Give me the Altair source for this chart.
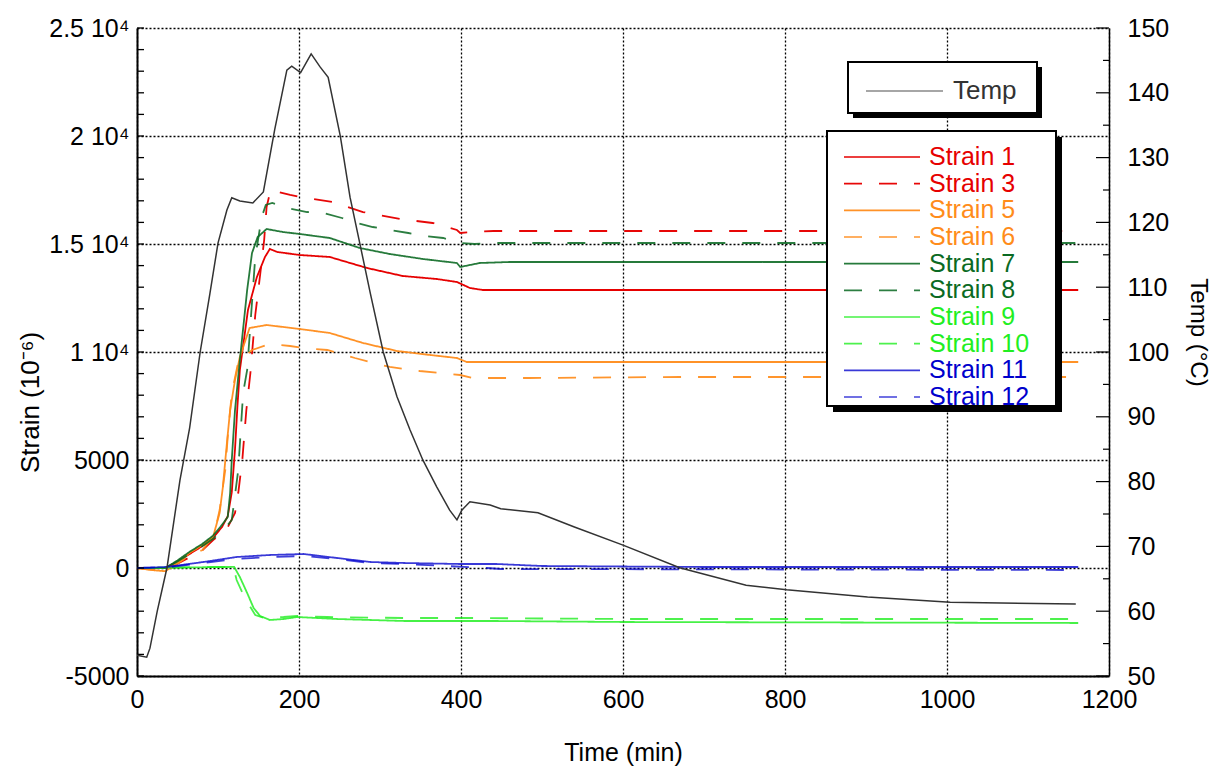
import altair as alt
import pandas as pd

FONT = "Liberation Sans"
W, H = 972, 648

# ---------------- data ----------------
temp_t = [0, 12, 16, 25, 37, 53, 65, 78, 90, 100, 111, 117, 127, 143, 156, 170, 185, 191, 202, 215, 226, 236,
          251, 263, 275, 288, 304, 321, 337, 353, 370, 386, 395, 401, 411, 436, 449, 495, 540, 600, 670, 752,
          802, 902, 1004, 1159]
temp_v = [53.2, 52.9, 54.3, 60.0, 66.7, 80.2, 88.3, 100.0, 109.0, 116.8, 121.9, 123.8, 123.3, 123.0, 124.7,
          134.3, 143.5, 144.1, 143.1, 146.0, 144.0, 142.4, 133.3, 123.9, 116.8, 109.1, 100.0, 93.1, 88.0, 83.3,
          79.2, 75.6, 74.1, 75.6, 76.9, 76.4, 75.8, 75.2, 73.0, 70.2, 66.7, 64.0, 63.3, 62.2, 61.4, 61.1]

t1 = [0, 35, 50, 65, 80, 94, 105, 112, 117, 121, 124, 127, 137, 148, 158, 164, 173, 201, 238, 284, 328, 370, 395, 411, 427, 1162]
v1 = [0, 0, 300, 650, 1000, 1400, 1900, 2400, 3500, 5500, 7500, 9167, 11944, 13472, 14398, 14769, 14630, 14491, 14398,
      13889, 13519, 13380, 13241, 12963, 12870, 12870]

t3 = [0, 35, 50, 65, 81, 94, 111, 121, 125, 130, 135, 140, 146, 152, 157, 160, 165, 189, 201, 242, 279, 325, 365, 395,
      399, 415, 440, 1162]
v3 = [0, -50, 200, 500, 833, 1296, 1806, 2546, 3472, 5000, 7315, 9028, 11713, 13565, 15185, 16713, 17500, 17269, 17176,
      16944, 16481, 16157, 15972, 15648, 15509, 15556, 15602, 15602]

t5 = [0, 20, 35, 50, 65, 80, 94, 102, 106, 111, 115, 121, 127, 139, 160, 201, 238, 279, 321, 362, 395, 407, 1162]
v5 = [0, -100, -150, 250, 700, 1050, 1450, 2546, 3750, 5787, 7315, 8704, 9769, 11111, 11250, 11065, 10880, 10417,
      10046, 9861, 9722, 9537, 9537]

t6 = [0, 20, 35, 50, 65, 81, 95, 102, 109, 112, 117, 125, 142, 164, 189, 205, 235, 269, 312, 349, 399, 415, 485, 670, 1162]
v6 = [0, -100, -200, 200, 600, 833, 1500, 2685, 4537, 6065, 8102, 9537, 10093, 10370, 10278, 10185, 10093, 9722, 9306,
      9120, 8935, 8796, 8796, 8843, 8843]

t7 = [0, 35, 50, 65, 80, 94, 105, 112, 115, 117, 121, 127, 136, 142, 149, 160, 180, 201, 238, 275, 312, 353, 395, 399,
      423, 460, 1162]
v7 = [0, 0, 350, 750, 1100, 1500, 2000, 2361, 3472, 5000, 7315, 9630, 12870, 14583, 15324, 15694, 15556, 15463, 15278,
      14815, 14537, 14306, 14120, 13935, 14120, 14167, 14167]

t8 = [0, 35, 50, 65, 80, 94, 110, 117, 125, 131, 136, 146, 154, 159, 167, 185, 210, 230, 253, 272, 291, 312, 335, 356,
      378, 395, 401, 417, 432, 1162]
v8 = [0, 0, 300, 650, 1000, 1350, 1900, 2222, 4537, 8102, 9167, 14398, 16250, 16806, 16898, 16667, 16481, 16435, 16204,
      15972, 15787, 15648, 15509, 15370, 15278, 15093, 15046, 15000, 15046, 15046]

t9 = [0, 120, 127, 136, 144, 152, 164, 181, 198, 222, 247, 288, 330, 444, 600, 1162]
v9 = [0, 50, -417, -1157, -1852, -2222, -2407, -2361, -2269, -2315, -2361, -2407, -2454, -2454, -2500, -2546]

t10 = [0, 115, 119, 123, 133, 146, 157, 181, 198, 235, 330, 411, 600, 1162]
v10 = [0, 50, 50, -556, -1389, -2176, -2315, -2269, -2222, -2269, -2315, -2315, -2361, -2361]

t11 = [0, 37, 82, 123, 164, 206, 247, 288, 330, 399, 444, 500, 701, 1162]
v11 = [0, 50, 278, 509, 602, 648, 463, 278, 231, 185, 185, 93, 46, 46]

t12 = [0, 37, 82, 123, 164, 206, 247, 288, 330, 432, 449, 1162]
v12 = [0, 30, 230, 417, 509, 556, 417, 231, 185, 0, -46, -93]

names = ["Strain 1", "Strain 3", "Strain 5", "Strain 6", "Strain 7", "Strain 8",
         "Strain 9", "Strain 10", "Strain 11", "Strain 12"]
colors = ["#e60000", "#e60000", "#ff8c1a", "#ff8c1a", "#0b6a23", "#0b6a23",
          "#22ee22", "#22ee22", "#0000cc", "#0000cc"]
dashes = [[1, 0], [18, 17]] * 5
opacities = [1, 0.75] * 5
series_t = [t1, t3, t5, t6, t7, t8, t9, t10, t11, t12]
series_v = [v1, v3, v5, v6, v7, v8, v9, v10, v11, v12]

x_ticks = [0, 200, 400, 600, 800, 1000, 1200]
strain_ticks = [-5000, 0, 5000, 10000, 15000, 20000, 25000]
strain_labels = ["-5000", "0", "5000", "1 10\u2074", "1.5 10\u2074", "2 10\u2074", "2.5 10\u2074"]
strain_minor = list(range(-5000, 25001, 1000))
temp_ticks = list(range(50, 151, 10))
temp_minor = list(range(55, 150, 10))

# ---------------- tables ----------------
rows = []
for n, ts, vs in zip(names, series_t, series_v):
    for t, v in zip(ts, vs):
        rows.append({"series": n, "t": t, "s": v})
df = pd.DataFrame(rows)
temp_df = pd.DataFrame({"t": temp_t, "temp": temp_v})
legend_df = pd.DataFrame({"series": names, "row": list(range(len(names)))})


def expr_map(vals, labels):
    s = "''"
    for v, l in reversed(list(zip(vals, labels))):
        s = f"datum.value == {v} ? '{l}' : ({s})"
    return s


x_scale = alt.Scale(domain=[0, 1200], nice=False, zero=False)
y_scale = alt.Scale(domain=[-5000, 25000], nice=False, zero=False)
temp_scale = alt.Scale(domain=[50, 150], nice=False, zero=False)
color_scale = alt.Scale(domain=names, range=colors)
dash_scale = alt.Scale(domain=names, range=dashes)
op_scale = alt.Scale(domain=names, range=opacities)

grid_style = dict(grid=True, gridColor="black", gridDash=[2, 2], gridWidth=1.3, gridOpacity=1)

x_axis = alt.Axis(values=x_ticks, format="d", ticks=False, domainColor="black", domainWidth=2,
                  labelFont=FONT, labelFontSize=25, labelColor="black", labelPadding=11,
                  labelFlush=False, labelOverlap=False,
                  title="Time (min)", titleFont=FONT, titleFontSize=25, titleFontWeight="normal",
                  titleColor="black", titleY=76, titleBaseline="middle", **grid_style)

y_axis = alt.Axis(values=strain_ticks, ticks=False, domainColor="black", domainWidth=2,
                  labelFont=FONT, labelFontSize=25, labelColor="black", labelPadding=8,
                  labelOverlap=False, labelExpr=expr_map(strain_ticks, strain_labels),
                  title="Strain (10\u207b\u2076)", titleFont=FONT, titleFontSize=26,
                  titleFontWeight="normal", titleColor="black", titleX=-107, titleY=374,
                  titleAlign="center", titleBaseline="middle", **grid_style)

temp_axis = alt.Axis(orient="right", values=temp_ticks, grid=False, ticks=False,
                     domainColor="black", domainWidth=1.5,
                     labelFont=FONT, labelFontSize=25, labelColor="black", labelPadding=18,
                     labelOverlap=False,
                     title="Temp (\u00b0C)", titleFont=FONT, titleFontSize=24, titleFontWeight="normal",
                     titleColor="black", titleX=88, titleY=304, titleAngle=90,
                     titleAlign="center", titleBaseline="middle")

X = alt.X("t:Q", scale=x_scale, axis=x_axis)

# ---------------- strain group ----------------
strain_lines = alt.Chart(df).mark_line(strokeWidth=1.8).encode(
    x=X,
    y=alt.Y("s:Q", scale=y_scale, axis=y_axis),
    color=alt.Color("series:N", scale=color_scale, legend=None),
    strokeDash=alt.StrokeDash("series:N", scale=dash_scale, legend=None),
    strokeOpacity=alt.StrokeOpacity("series:N", scale=op_scale, legend=None),
    detail="series:N",
)
left_ticks = alt.Chart(pd.DataFrame({"s": strain_minor})).mark_rule(color="black", strokeWidth=1.3).encode(
    y=alt.Y("s:Q", scale=y_scale, axis=y_axis),
    x=alt.value(0), x2=alt.value(7),
)
strain_group = alt.layer(strain_lines, left_ticks)

# ---------------- temperature group ----------------
temp_line = alt.Chart(temp_df).mark_line(strokeWidth=1.5, color="#333333").encode(
    x=X,
    y=alt.Y("temp:Q", scale=temp_scale, axis=temp_axis),
)
right_major = alt.Chart(pd.DataFrame({"temp": temp_ticks})).mark_rule(color="black", strokeWidth=1.2).encode(
    y=alt.Y("temp:Q", scale=temp_scale, axis=temp_axis),
    x=alt.value(W - 13), x2=alt.value(W),
)
right_minor = alt.Chart(pd.DataFrame({"temp": temp_minor})).mark_rule(color="black", strokeWidth=1.2).encode(
    y=alt.Y("temp:Q", scale=temp_scale, axis=temp_axis),
    x=alt.value(W - 6), x2=alt.value(W),
)
temp_group = alt.layer(temp_line, right_major, right_minor)

# ---------------- legends ----------------
one = pd.DataFrame({"label": ["Temp"]})
leg_y = alt.Y("row:Q", scale=alt.Scale(domain=[0, 9], range=[129, 369]), axis=None)

tshadow = alt.Chart(one).mark_rect(color="black").encode(
    x=alt.value(716), x2=alt.value(905), y=alt.value(39), y2=alt.value(90))
tbox = alt.Chart(one).mark_rect(fill="white", stroke="black", strokeWidth=2).encode(
    x=alt.value(711), x2=alt.value(900), y=alt.value(34), y2=alt.value(85))
tline = alt.Chart(one).mark_rule(color="#888888", strokeWidth=1.6).encode(
    x=alt.value(729), x2=alt.value(806), y=alt.value(63))
ttext = alt.Chart(one).mark_text(align="left", baseline="middle", font=FONT, fontSize=26,
                                 color="#333333").encode(
    x=alt.value(816), y=alt.value(63), text="label:N")

sshadow = alt.Chart(one).mark_rect(color="black").encode(
    x=alt.value(696), x2=alt.value(925), y=alt.value(109), y2=alt.value(384))
sbox = alt.Chart(one).mark_rect(fill="white", stroke="black", strokeWidth=2).encode(
    x=alt.value(690), x2=alt.value(919), y=alt.value(103), y2=alt.value(378))
slines = alt.Chart(legend_df).mark_rule(strokeWidth=1.6).encode(
    x=alt.value(707), x2=alt.value(783), y=leg_y,
    color=alt.Color("series:N", scale=color_scale, legend=None),
    strokeDash=alt.StrokeDash("series:N", scale=dash_scale, legend=None),
    strokeOpacity=alt.StrokeOpacity("series:N", scale=op_scale, legend=None),
)
stexts = alt.Chart(legend_df).mark_text(align="left", baseline="middle", font=FONT, fontSize=25).encode(
    x=alt.value(792), y=leg_y, text="series:N",
    color=alt.Color("series:N", scale=color_scale, legend=None),
)
legend_group = alt.layer(tshadow, tbox, tline, ttext, sshadow, sbox, slines, stexts)

chart = alt.layer(strain_group, temp_group, legend_group).resolve_scale(
    y="independent"
).properties(
    width=W, height=H,
    autosize=alt.AutoSizeParams(type="none"),
    padding={"left": 129, "top": 20, "right": 108, "bottom": 95},
    background="white",
).configure_view(stroke=None)

chart.save("out.html", embed_options={"renderer": "svg", "actions": False})
